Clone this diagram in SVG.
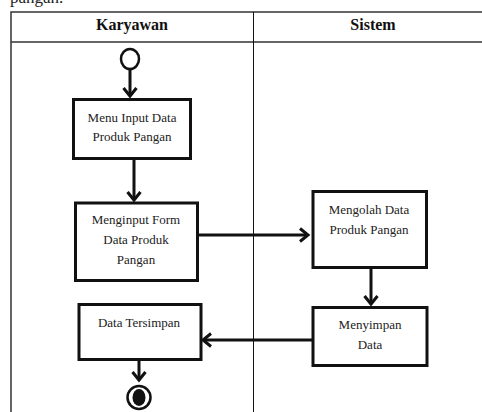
<svg xmlns="http://www.w3.org/2000/svg" width="482" height="412" viewBox="0 0 482 412">
<style>
.box{fill:#fff;stroke:#111;stroke-width:3}
.t{font-family:"Liberation Serif","Times New Roman",serif;font-size:13px;fill:#222;text-anchor:middle}
.h{font-family:"Liberation Serif","Times New Roman",serif;font-size:16px;font-weight:bold;fill:#111;text-anchor:middle}
.c{stroke:#111;stroke-width:3;fill:none}
</style>
<defs>
<marker id="arr" markerUnits="userSpaceOnUse" markerWidth="14" markerHeight="16" refX="10" refY="8" orient="auto" viewBox="0 0 14 16">
<path d="M2,1.5 L10,8 L2,14.5" fill="none" stroke="#111" stroke-width="3"/>
</marker>
</defs>
<rect width="482" height="412" fill="#fff"/>
<text x="10" y="3" font-family="Liberation Serif,serif" font-size="17" fill="#222">pangan.</text>
<g id="table">
<path d="M11,412 V12 H482" fill="none" stroke="#333" stroke-width="1.5"/>
<line x1="11" y1="42" x2="482" y2="42" stroke="#333" stroke-width="1.5"/>
<line x1="253.5" y1="12" x2="253.5" y2="412" stroke="#111" stroke-width="1"/>
<text class="h" x="132" y="30">Karyawan</text>
<text class="h" x="373" y="30">Sistem</text>
</g>
<g id="start"><ellipse cx="130" cy="59" rx="9" ry="10" fill="#fff" stroke="#111" stroke-width="2.5"/></g>
<g id="n1"><rect class="box" x="73.5" y="99.5" width="117" height="59"/>
<text class="t" x="132" y="122">Menu Input Data</text><text class="t" x="132" y="141">Produk Pangan</text></g>
<g id="n2"><rect class="box" x="75.5" y="203" width="122" height="77.5"/>
<text class="t" x="136" y="224">Menginput Form</text><text class="t" x="136" y="244">Data Produk</text><text class="t" x="136" y="264">Pangan</text></g>
<g id="n3"><rect class="box" x="313" y="191.5" width="113.5" height="76"/>
<text class="t" x="369" y="214">Mengolah Data</text><text class="t" x="369" y="234">Produk Pangan</text></g>
<g id="n4"><rect class="box" x="313" y="307.5" width="114" height="58"/>
<text class="t" x="370" y="329">Menyimpan</text><text class="t" x="370" y="349">Data</text></g>
<g id="n5"><rect class="box" x="79" y="304.5" width="122" height="55"/>
<text class="t" x="139" y="327">Data Tersimpan</text></g>
<g id="end"><circle cx="139" cy="397.5" r="11.5" fill="#fff" stroke="#111" stroke-width="2.5"/><ellipse cx="139" cy="397.5" rx="6.5" ry="8.5" fill="#111"/></g>
<g id="connectors">
<line class="c" x1="130" y1="69" x2="130" y2="96" marker-end="url(#arr)"/>
<line class="c" x1="134" y1="160" x2="134" y2="200" marker-end="url(#arr)"/>
<line class="c" x1="199" y1="235" x2="308" y2="235" marker-end="url(#arr)"/>
<line class="c" x1="371" y1="269" x2="371" y2="304" marker-end="url(#arr)"/>
<line class="c" x1="312" y1="340" x2="203" y2="340" marker-end="url(#arr)"/>
<line class="c" x1="139" y1="361" x2="139" y2="380" marker-end="url(#arr)"/>
</g>
</svg>
